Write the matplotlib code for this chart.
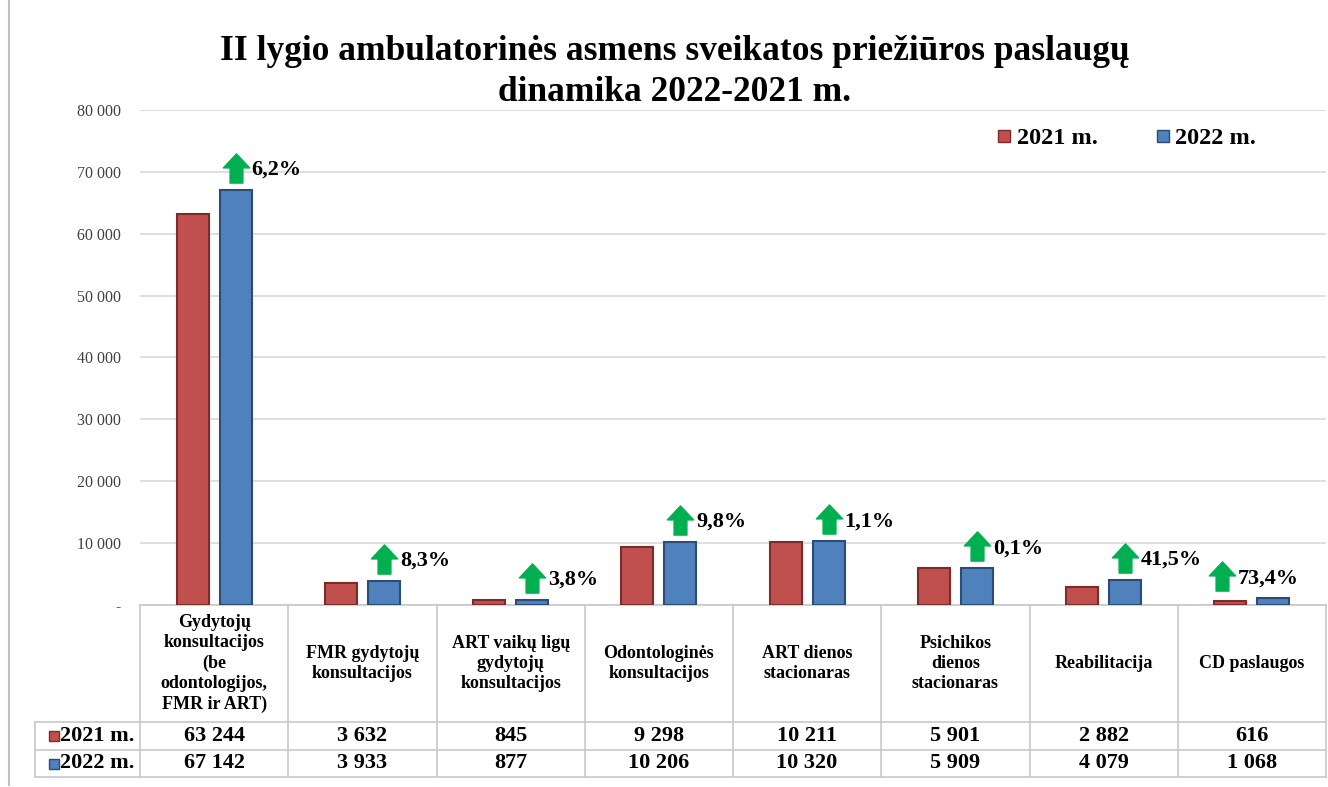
import numpy as np
import matplotlib
matplotlib.use("Agg")
import matplotlib.pyplot as plt
from matplotlib.path import Path
from matplotlib.lines import Line2D
from matplotlib import transforms

# ----- Data -----
categories = [
    "Gydytojų\nkonsultacijos\n(be\nodontologijos,\nFMR ir ART)",
    "FMR gydytojų\nkonsultacijos",
    "ART vaikų ligų\ngydytojų\nkonsultacijos",
    "Odontologinės\nkonsultacijos",
    "ART dienos\nstacionaras",
    "Psichikos\ndienos\nstacionaras",
    "Reabilitacija",
    "CD paslaugos",
]
series_names = ["2021 m.", "2022 m."]
values_2021 = [63244, 3632, 845, 9298, 10211, 5901, 2882, 616]
values_2022 = [67142, 3933, 877, 10206, 10320, 5909, 4079, 1068]
yticks = [0, 10000, 20000, 30000, 40000, 50000, 60000, 70000, 80000]

title = "II lygio ambulatorinės asmens sveikatos priežiūros paslaugų\ndinamika 2022-2021 m."

# ----- Style -----
plt.rcParams["font.family"] = ["Liberation Serif", "DejaVu Serif"]
red, blue = "#C0504D", "#4F81BD"
red_edge, blue_edge = "#7B2C2A", "#2B4C74"
green = "#00B050"
grid_c = "#D9D9D9"
line_c = "#C8C8C8"

W, H = 1328, 787
fig = plt.figure(figsize=(W / 100, H / 100), dpi=100)
ax = fig.add_axes([140 / W, 1 - 605 / H, 1186 / W, 495 / H])


def fx(px):
    return px / W


def fy(py):
    return 1 - py / H


x = np.arange(len(categories))
bw = 0.216
off = 0.145
ax.bar(x - off, values_2021, width=bw, color=red, edgecolor=red_edge, linewidth=1.5, zorder=3)
ax.bar(x + off, values_2022, width=bw, color=blue, edgecolor=blue_edge, linewidth=1.5, zorder=3)

ax.set_xlim(-0.5, len(categories) - 0.5)
ax.set_ylim(0, 80000)
ax.set_yticks(yticks)
ax.set_yticklabels(["-" if v == 0 else f"{v:,}".replace(",", " ") for v in yticks])
ax.tick_params(axis="y", length=0, pad=14, labelsize=11.5, labelcolor="#404040")
ax.set_xticks([])
ax.grid(axis="y", color=grid_c, linewidth=1.2, zorder=0)
for s in ["top", "right", "left", "bottom"]:
    ax.spines[s].set_visible(False)

# ----- Growth arrows -----
arrow = Path([(-0.22, -0.5), (0.22, -0.5), (0.22, 0.02), (0.45, 0.02), (0.0, 0.5),
              (-0.45, 0.02), (-0.22, 0.02), (-0.22, -0.5)],
             [Path.MOVETO] + [Path.LINETO] * 6 + [Path.CLOSEPOLY])
for i, (a, b) in enumerate(zip(values_2021, values_2022)):
    pct = (b - a) / a * 100
    ax_x = x[i] + off if i < len(categories) - 1 else x[i] - 0.2
    tr = transforms.offset_copy(ax.transData, fig=fig, x=0, y=22, units="dots")
    ax.plot([ax_x], [b], marker=arrow, markersize=21, color=green, transform=tr,
            clip_on=False, zorder=4)
    ax.annotate(f"{pct:.1f}%".replace(".", ","), xy=(ax_x, b), xytext=(16, 20),
                textcoords="offset pixels", ha="left", va="center",
                fontsize=16, fontweight="bold", zorder=5)

# ----- Title -----
fig.text(fx(675), fy(72), title, ha="center", va="center", fontsize=25.5,
         fontweight="bold", linespacing=1.3)

# ----- Legend -----
handles = [Line2D([], [], marker="s", linestyle="none", markersize=8,
                  markerfacecolor=c, markeredgecolor=e)
           for c, e in [(red, red_edge), (blue, blue_edge)]]
fig.legend(handles, series_names, loc="center right", bbox_to_anchor=(fx(1278), fy(138)),
           ncol=2, frameon=False, handletextpad=0.1, columnspacing=2.3,
           handlelength=0.8, prop={"weight": "bold", "size": 17.5})

# ----- Data table -----
tf = transforms.blended_transform_factory(ax.transData, fig.transFigure)
y_top, y_hdr, y_r1, y_r2 = 605, 722, 750, 777
for b in np.arange(-0.5, len(categories), 1.0):
    ax.plot([b, b], [fy(y_top), fy(y_r2)], color=line_c, lw=1.2, transform=tf, clip_on=False)
ax.plot([-0.5, len(categories) - 0.5], [fy(y_top)] * 2, color=line_c, lw=1.2, transform=tf, clip_on=False)
for yy in [y_hdr, y_r1, y_r2]:
    fig.add_artist(Line2D([fx(35), fx(1326)], [fy(yy)] * 2, color=line_c, lw=1.2))
fig.add_artist(Line2D([fx(35), fx(35)], [fy(y_hdr), fy(y_r2)], color=line_c, lw=1.2))

for i, cat in enumerate(categories):
    ax.text(x[i], fy((y_top + y_hdr) / 2), cat, transform=tf, ha="center", va="center",
            fontsize=13, fontweight="bold", linespacing=1.25)
    for row, vals in [((y_hdr + y_r1) / 2, values_2021), ((y_r1 + y_r2) / 2, values_2022)]:
        ax.text(x[i], fy(row), f"{vals[i]:,}".replace(",", " "), transform=tf,
                ha="center", va="center", fontsize=16, fontweight="bold")

for (row, name, c, e) in [((y_hdr + y_r1) / 2, series_names[0], red, red_edge),
                          ((y_r1 + y_r2) / 2, series_names[1], blue, blue_edge)]:
    fig.add_artist(Line2D([fx(54)], [fy(row)], marker="s", markersize=7,
                          markerfacecolor=c, markeredgecolor=e, linestyle="none"))
    fig.text(fx(60), fy(row), name, ha="left", va="center", fontsize=16, fontweight="bold")

# chart border
fig.add_artist(Line2D([fx(9), fx(9)], [fy(0), fy(785)], color="#BFBFBF", lw=1.5))

fig.savefig("out.png", dpi=100)
